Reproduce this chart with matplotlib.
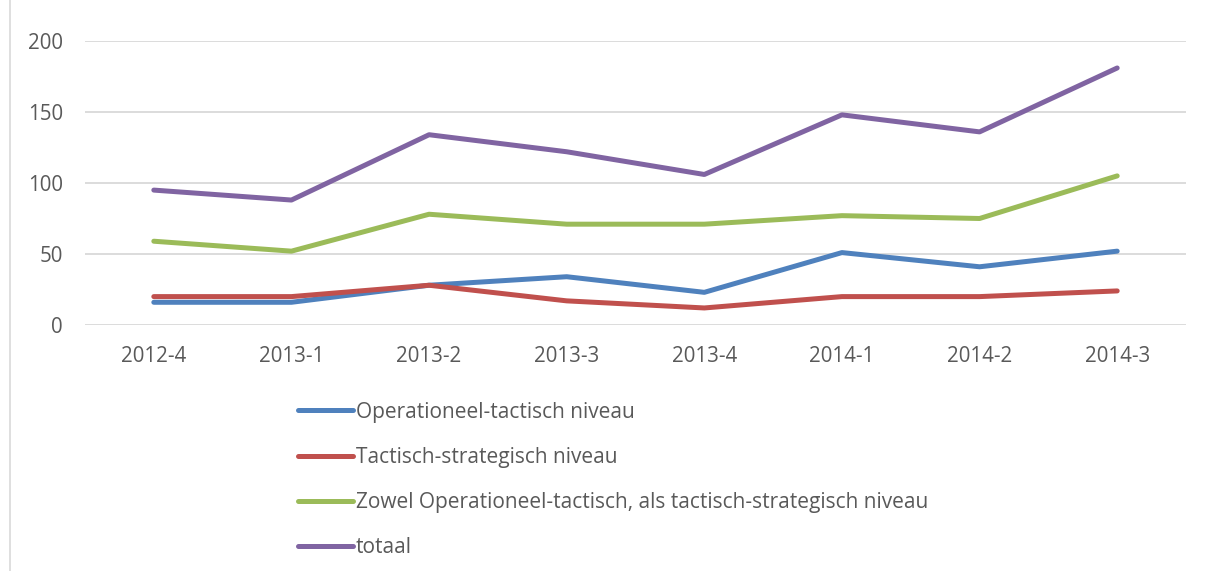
import matplotlib.pyplot as plt
from matplotlib.lines import Line2D

quarters = ['2012-4', '2013-1', '2013-2', '2013-3', '2013-4', '2014-1', '2014-2', '2014-3']
operationeel = [16, 16, 28, 34, 23, 51, 41, 52]
tactisch = [20, 20, 28, 17, 12, 20, 20, 24]
zowel = [59, 52, 78, 71, 71, 77, 75, 105]
totaal = [95, 88, 134, 122, 106, 148, 136, 181]

labels = ['Operationeel-tactisch niveau', 'Tactisch-strategisch niveau',
          'Zowel Operationeel-tactisch, als tactisch-strategisch niveau', 'totaal']
colors = ['#4F81BD', '#C0504D', '#9BBB59', '#8064A2']

plt.rcParams['font.family'] = ['Open Sans', 'DejaVu Sans']
text_color = '#595959'

fig = plt.figure(figsize=(12.08, 5.71), dpi=100)
ax = fig.add_axes([85 / 1208, 1 - 325 / 571, 1101 / 1208, 284 / 571])

x = range(len(quarters))
for series, color, label in zip([operationeel, tactisch, zowel, totaal], colors, labels):
    ax.plot(x, series, color=color, lw=3.6, solid_capstyle='round',
            solid_joinstyle='round', label=label)

ax.set_xlim(-0.5, len(quarters) - 0.5)
ax.set_ylim(0, 200)
ax.set_yticks([0, 50, 100, 150, 200])
ax.set_xticks(list(x))
ax.set_xticklabels(quarters)
ax.grid(axis='y', color='#D9D9D9', lw=1.3)
ax.set_axisbelow(True)
for s in ax.spines.values():
    s.set_visible(False)
ax.tick_params(length=0, labelsize=14.8, colors=text_color)
ax.tick_params(axis='x', pad=15)
ax.tick_params(axis='y', pad=16)

# outer chart frame (left edge visible)
fig.add_artist(Line2D([10 / 1208, 10 / 1208], [0, 1], color='#D9D9D9', lw=1.2))

handles, lbls = ax.get_legend_handles_labels()
leg = fig.legend(handles, lbls, loc='upper left', bbox_to_anchor=(279 / 1208, 1 - 383 / 571),
                 frameon=False, fontsize=15, labelcolor=text_color, handlelength=2.65,
                 handletextpad=0.15, labelspacing=1.16)

fig.savefig('out.png', dpi=100)
